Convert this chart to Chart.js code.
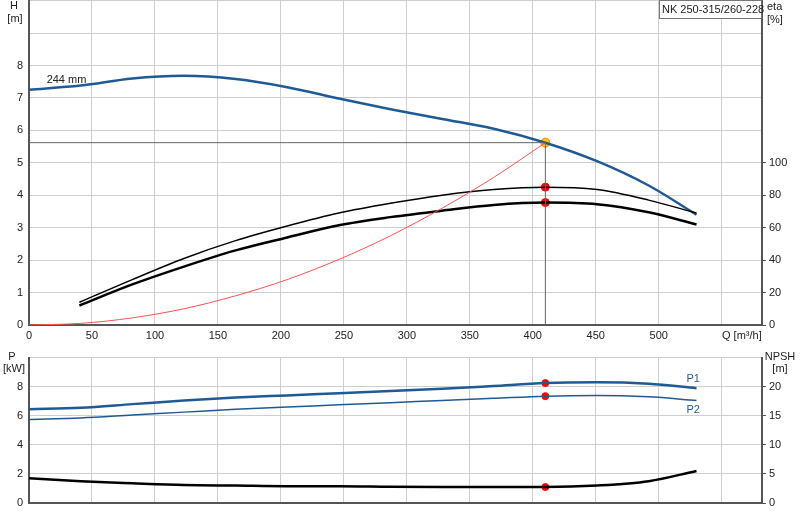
<!DOCTYPE html>
<html><head><meta charset="utf-8">
<script src="https://cdn.jsdelivr.net/npm/chart.js@4"></script>
<style>
body{margin:0;background:#fff;width:800px;height:520px;position:relative;overflow:hidden;font-family:"Liberation Sans",Arial,sans-serif}
#c1w{position:absolute;left:0;top:-12px;width:800px;height:357px}
#c2w{position:absolute;left:0;top:345px;width:800px;height:175px}
</style></head><body>
<div id="c1w"><canvas id="c1"></canvas></div>
<div id="c2w"><canvas id="c2"></canvas></div>
<script>
const qH=[0,41,82,123,164,205,246,287,328,369,410,451,492,530];
const headM=[7.25,7.38,7.6,7.68,7.58,7.33,6.98,6.65,6.35,6.05,5.62,5.05,4.3,3.4];
const qEta=[40,82,123,164,205,246,287,328,369,410,451,492,530];
const etaThin=[14,28,41,52,61,69,75,80,83.5,85,83.5,77,69];
const etaThick=[12,25,36,46,54,61.5,66.5,70.5,74,75.5,74.5,69.5,62];
const qSys=[0,41,82,123,164,205,246,287,328,369,410];
const sysH=[0,0.05,0.22,0.5,0.9,1.4,2.02,2.75,3.6,4.55,5.62];
const qP=[0,41,82,123,164,205,246,287,328,369,410,451,492,530];
const p1=[6.45,6.55,6.8,7.05,7.25,7.4,7.55,7.7,7.85,8.05,8.25,8.3,8.2,7.9];
const p2=[5.75,5.85,6.05,6.25,6.45,6.6,6.75,6.9,7.05,7.2,7.35,7.4,7.3,7.05];
const npsh=[4.25,3.75,3.4,3.1,3.0,2.9,2.9,2.8,2.75,2.75,2.75,3.0,3.75,5.5];
const dutyQ=410, dutyH=5.62, dutyEtaThin=85, dutyEtaThick=75.5, dutyP1=8.25, dutyP2=7.35, dutyNpsh=2.75;
const xTicks=[0,50,100,150,200,250,300,350,400,450,500];
const pumpName="NK 250-315/260-228";

const BLUE="#1f5a96", GRID="#cfcfcf", BORDER="#555";
const pts=(xs,ys)=>xs.map((x,i)=>({x,y:ys[i]}));
const font={family:"Liberation Sans, Arial",size:11};
const ln=(data,color,w,axis,extra={})=>Object.assign({type:'line',data,borderColor:color,borderWidth:w,pointRadius:0,yAxisID:axis,cubicInterpolationMode:'monotone',fill:false},extra);
const dot=(x,y,axis,color,r=4,border)=>({type:'scatter',data:[{x,y}],yAxisID:axis,pointRadius:r,backgroundColor:color,borderColor:border||color,borderWidth:1});

const textPlugin1={id:'t1',afterDraw(c){const g=c.ctx;g.save();g.translate(0,12);g.font="11px Liberation Sans, Arial";g.fillStyle="#222";
 g.textAlign='center';g.fillText("H",14,9);g.fillText("[m]",15,22);
 g.textAlign='left';g.fillText("eta",767,10);g.fillText("[%]",767,23);
 g.strokeStyle="#777";g.lineWidth=1;g.fillStyle="#fff";g.fillRect(659.5,0.5,102,18);g.strokeRect(659.5,0.5,102,18);
 g.fillStyle="#222";g.fillText(pumpName,662,13);
 g.restore();
 g.save();g.font="11px Liberation Sans, Arial";g.fillStyle="#222";g.textAlign='left';
 const x=c.scales.x,y=c.scales.y;
 g.fillText("244 mm",x.getPixelForValue(14),y.getPixelForValue(7.45));
 g.textAlign='center';g.fillText("Q [m³/h]",x.getPixelForValue(566),c.chartArea.bottom+14);
 g.restore();}};
const textPlugin2={id:'t2',afterDraw(c){const g=c.ctx;g.save();g.font="11px Liberation Sans, Arial";g.fillStyle="#222";
 g.textAlign='center';g.fillText("P",12,15);g.fillText("[kW]",14,27);g.fillText("NPSH",780,15);g.fillText("[m]",780,27);
 const x=c.scales.x,y=c.scales.y;g.fillStyle=BLUE;g.textAlign='left';
 g.fillText("P1",x.getPixelForValue(522),y.getPixelForValue(8.35));
 g.fillText("P2",x.getPixelForValue(522),y.getPixelForValue(6.2));
 g.restore();}};

const xScale=(show)=>({type:'linear',min:0,max:582,afterBuildTicks:a=>{a.ticks=[...xTicks,550].map(v=>({value:v}));},
 grid:{color:GRID,drawTicks:false},border:{color:BORDER,width:2},
 ticks:{display:show,font,color:"#222",padding:4,callback:v=>v===550?'':v,maxRotation:0},
 afterFit:s=>{s.height=show?20:17;}});

new Chart(document.getElementById('c1'),{data:{datasets:[
 ln([{x:0,y:dutyH},{x:dutyQ,y:dutyH}],"#666",1,'y',{cubicInterpolationMode:'default'}),
 ln([{x:dutyQ,y:0},{x:dutyQ,y:dutyH}],"#666",1,'y',{cubicInterpolationMode:'default'}),
 ln(pts(qSys,sysH),"#ff5050",1,'y'),
 ln(pts(qEta,etaThin),"#000",1.5,'y2'),
 ln(pts(qEta,etaThick),"#000",2.5,'y2'),
 ln(pts(qH,headM),BLUE,2.5,'y'),
 dot(dutyQ,dutyEtaThin,'y2','#f00'),
 dot(dutyQ,dutyEtaThick,'y2','#f00'),
 dot(dutyQ,dutyH,'y','#ffcc00',4.5,'#f08000')
]},options:{responsive:true,maintainAspectRatio:false,animation:false,
 layout:{padding:{top:1,left:0,right:0,bottom:0}},
 plugins:{legend:{display:false},tooltip:{enabled:false}},
 scales:{x:xScale(true),
 y:{position:'left',min:0,max:10,afterBuildTicks:a=>{a.ticks=[0,1,2,3,4,5,6,7,8,9,10].map(v=>({value:v}));},
  grid:{color:GRID,drawTicks:false},border:{color:BORDER,width:2},
  ticks:{font,color:"#222",padding:6,callback:v=>v<=8?v:''},afterFit:s=>{s.width=29;}},
 y2:{position:'right',min:0,max:200,afterBuildTicks:a=>{a.ticks=[0,20,40,60,80,100].map(v=>({value:v}));},
  grid:{display:true,drawOnChartArea:false,tickLength:4,color:BORDER},border:{color:BORDER,width:2},
  ticks:{font,color:"#222",padding:3},afterFit:s=>{s.width=38;}}}},
 plugins:[textPlugin1]});

new Chart(document.getElementById('c2'),{data:{datasets:[
 ln(pts(qP,npsh),"#000",2.5,'y2'),
 ln(pts(qP,p2),BLUE,1.5,'y'),
 ln(pts(qP,p1),BLUE,2.5,'y'),
 dot(dutyQ,dutyP1,'y','#f00',3.5),
 dot(dutyQ,dutyP2,'y','#f00',3.5),
 dot(dutyQ,dutyNpsh,'y2','#f00',3.5)
]},options:{responsive:true,maintainAspectRatio:false,animation:false,
 layout:{padding:{top:0,left:0,right:0,bottom:0}},
 plugins:{legend:{display:false},tooltip:{enabled:false}},
 scales:{x:xScale(false),
 y:{position:'left',min:0,max:10,afterBuildTicks:a=>{a.ticks=[0,2,4,6,8,10].map(v=>({value:v}));},
  grid:{color:GRID,drawTicks:false},border:{color:BORDER,width:2},
  ticks:{font,color:"#222",padding:6,callback:v=>v<=8?v:''},afterFit:s=>{s.width=29;}},
 y2:{position:'right',min:0,max:25,afterBuildTicks:a=>{a.ticks=[0,5,10,15,20].map(v=>({value:v}));},
  grid:{display:true,drawOnChartArea:false,tickLength:4,color:BORDER},border:{color:BORDER,width:2},
  ticks:{font,color:"#222",padding:3},afterFit:s=>{s.width=38;}}}},
 plugins:[textPlugin2]});
</script></body></html>
